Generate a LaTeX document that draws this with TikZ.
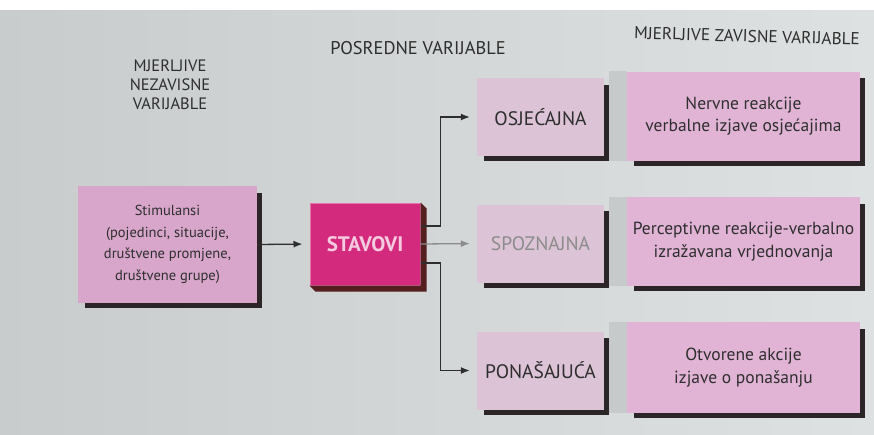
\documentclass[tikz,border=0pt]{standalone}
\usepackage{fontspec}
\setmainfont{PT Sans}
\usetikzlibrary{arrows.meta,backgrounds}
\definecolor{bgleft}{HTML}{C8CCCD}
\definecolor{bgright}{HTML}{DEE1E1}
\definecolor{stimpink}{HTML}{D8A6CB}
\definecolor{midpink}{HTML}{DCC3D6}
\definecolor{outpink}{HTML}{E1B4D6}
\definecolor{hotpink}{HTML}{D42A7E}
\definecolor{panelgray}{HTML}{C6CACB}
\definecolor{shadowcol}{HTML}{2B2527}
\definecolor{inkgray}{HTML}{2E2E2E}

\begin{document}
\begin{tikzpicture}[x=1pt,y=-1pt,
        every node/.style = {rectangle, inner sep=0pt, align=center, text=inkgray},
        varbox/.style = {fill=midpink, minimum width=127, minimum height=78, font=\fontsize{19.5}{22}\selectfont},
        outbox/.style = {fill=outpink, minimum width=233, minimum height=89, font=\fontsize{17.5}{22.5}\selectfont},
        arr/.style = {draw=inkgray, line width=1.3pt, -{Latex[length=9pt,width=7pt]}, shorten >=7pt}]
    \useasboundingbox (0,0) rectangle (874,434);

    % titles
    \node[font=\fontsize{16.5}{19}\selectfont] (nezav) at (170,85) {MJERLJIVE\\NEZAVISNE\\VARIJABLE};
    \node[font=\fontsize{18.4}{20}\selectfont] (posr) at (418,48) {POSREDNE VARIJABLE};
    \node[font=\fontsize{17.2}{20}\selectfont, rotate=-1.6] (zavis) at (747,36) {MJERLJIVE ZAVISNE VARIJABLE};

    % input and attitudes
    \node[fill=stimpink, minimum width=179, minimum height=117, font=\fontsize{14.5}{21.5}\selectfont]
        (stim) at (167.5,244.5) {Stimulansi\\(pojedinci, situacije,\\društvene promjene,\\društvene grupe)};
    \node[fill=hotpink, draw=hotpink!65!white, line width=1pt, minimum width=110, minimum height=82,
        text=hotpink!25!white, font=\fontsize{21}{22}\selectfont\bfseries]
        (stavovi) at (365,244) {STAVOVI};

    % mediating variables
    \node[varbox] (osj) at (540.5,117) {OSJEĆAJNA};
    \node[varbox, text=black!45] (spoz) at (540.5,243.5) {SPOZNAJNA};
    \node[varbox] (pon) at (540.5,370.5) {PONAŠAJUĆA};

    % measured dependent variables
    \node[outbox] (nervne) at (743.5,116) {Nervne reakcije\\verbalne izjave osjećajima};
    \node[outbox] (percep) at (743.5,241.5) {Perceptivne reakcije-verbalno\\izražavana vrjednovanja};
    \node[outbox, minimum height=91] (otvor) at (743.5,367.5) {Otvorene akcije\\izjave o ponašanju};

    \begin{scope}[on background layer]
        \shade[left color=bgleft, right color=bgright] (0,10) rectangle (874,434);
        \fill[white] (0,0) rectangle (874,10);
        \foreach \from/\to in {osj/nervne, spoz/percep, pon/otvor}
            \fill[panelgray] ([xshift=5pt]\from.east |- \to.north) rectangle (\to.south west);
    \end{scope}

    % shadows, right and below each box
    \foreach \bx in {stim, osj, spoz, pon, nervne, percep, otvor}
        \fill[shadowcol] ([yshift=-7pt]\bx.north east) rectangle ([xshift=5pt,yshift=-5pt]\bx.south east);
    \foreach \bx in {stim, osj, spoz, pon, nervne, percep, otvor}
        \fill[shadowcol] ([xshift=7pt]\bx.south west) rectangle ([xshift=5pt,yshift=-5pt]\bx.south east);
    \fill[shadowcol!80!red] (stavovi.north east) -- ([xshift=6pt,yshift=-6pt]stavovi.north east)
        |- ([xshift=6pt,yshift=-6pt]stavovi.south west) -- (stavovi.south west) -| cycle;

    \draw[arr] (stim.east) -- (stavovi.west);
    \draw[arr] ([yshift=18pt]stavovi.east) -- ++(20,0) |- (osj.west);
    \draw[arr, draw=black!45] (stavovi.east) -- (spoz.west);
    \draw[arr] ([yshift=-19pt]stavovi.east) -- ++(20,0) |- (pon.west);
\end{tikzpicture}
\end{document}
